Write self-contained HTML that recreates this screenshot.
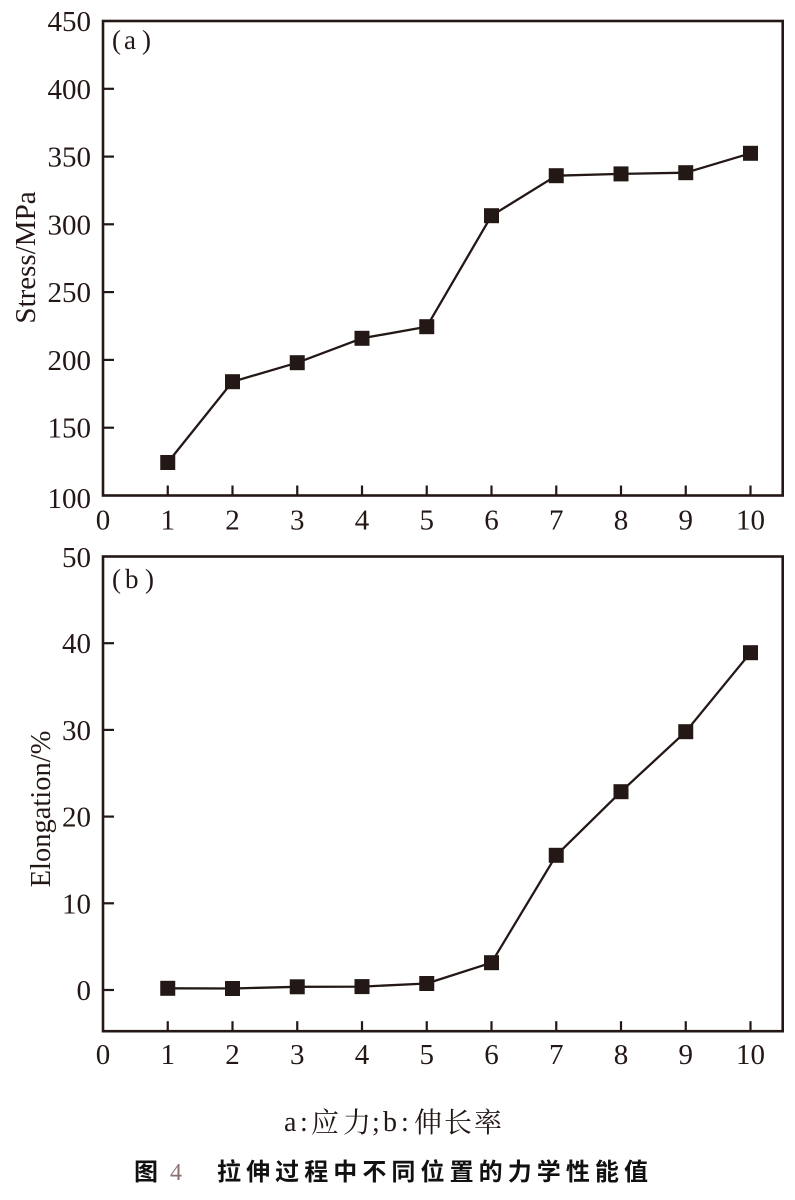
<!DOCTYPE html>
<html>
<head>
<meta charset="utf-8">
<style>
html,body{margin:0;padding:0;background:#fff;}
svg{display:block;}
.t{font-family:"Liberation Serif","Noto Serif CJK SC",serif;fill:#231815;}
</style>
</head>
<body>
<svg width="795" height="1200" viewBox="0 0 795 1200" xmlns="http://www.w3.org/2000/svg">
<rect width="795" height="1200" fill="#fff"/>

<!-- ===== Chart (a) ===== -->
<g stroke="#231815" fill="none">
  <rect x="103" y="21" width="679.7" height="474.5" stroke-width="2.6"/>
  <g stroke-width="2.2">
    <line x1="103" y1="427.7" x2="114" y2="427.7"/>
    <line x1="103" y1="359.9" x2="114" y2="359.9"/>
    <line x1="103" y1="292.1" x2="114" y2="292.1"/>
    <line x1="103" y1="224.3" x2="114" y2="224.3"/>
    <line x1="103" y1="156.6" x2="114" y2="156.6"/>
    <line x1="103" y1="88.8" x2="114" y2="88.8"/>
    <line x1="167.75" y1="495.5" x2="167.75" y2="485.5"/>
    <line x1="232.5" y1="495.5" x2="232.5" y2="485.5"/>
    <line x1="297.25" y1="495.5" x2="297.25" y2="485.5"/>
    <line x1="362" y1="495.5" x2="362" y2="485.5"/>
    <line x1="426.75" y1="495.5" x2="426.75" y2="485.5"/>
    <line x1="491.5" y1="495.5" x2="491.5" y2="485.5"/>
    <line x1="556.25" y1="495.5" x2="556.25" y2="485.5"/>
    <line x1="621" y1="495.5" x2="621" y2="485.5"/>
    <line x1="685.75" y1="495.5" x2="685.75" y2="485.5"/>
    <line x1="750.5" y1="495.5" x2="750.5" y2="485.5"/>
  </g>
  <polyline stroke-width="2.3" stroke-linejoin="round" points="167.75,462.5 232.5,381.7 297.25,362.7 362,338.3 426.75,326.7 491.5,215.7 556.25,175.7 621,173.9 685.75,172.7 750.5,153.3"/>
</g>
<g fill="#231815">
  <rect x="160.25" y="455" width="15" height="15"/>
  <rect x="225" y="374.2" width="15" height="15"/>
  <rect x="289.75" y="355.2" width="15" height="15"/>
  <rect x="354.5" y="330.8" width="15" height="15"/>
  <rect x="419.25" y="319.2" width="15" height="15"/>
  <rect x="484" y="208.2" width="15" height="15"/>
  <rect x="548.75" y="168.2" width="15" height="15"/>
  <rect x="613.5" y="166.4" width="15" height="15"/>
  <rect x="678.25" y="165.2" width="15" height="15"/>
  <rect x="743" y="145.8" width="15" height="15"/>
</g>
<g class="t" font-size="29" text-anchor="end">
  <text x="91" y="31">450</text>
  <text x="91" y="98.8">400</text>
  <text x="91" y="166.6">350</text>
  <text x="91" y="234.3">300</text>
  <text x="91" y="302.1">250</text>
  <text x="91" y="369.9">200</text>
  <text x="91" y="437.7">150</text>
  <text x="91" y="508">100</text>
</g>
<g class="t" font-size="29" text-anchor="middle">
  <text x="103" y="529.5">0</text>
  <text x="167.75" y="529.5">1</text>
  <text x="232.5" y="529.5">2</text>
  <text x="297.25" y="529.5">3</text>
  <text x="362" y="529.5">4</text>
  <text x="426.75" y="529.5">5</text>
  <text x="491.5" y="529.5">6</text>
  <text x="556.25" y="529.5">7</text>
  <text x="621" y="529.5">8</text>
  <text x="685.75" y="529.5">9</text>
  <text x="750.5" y="529.5">10</text>
</g>
<g class="t" font-size="27">
  <text x="112" y="49">(</text>
  <text x="124" y="49">a</text>
  <text x="142" y="49">)</text>
</g>
<text class="t" font-size="29" text-anchor="middle" transform="translate(35,257.5) rotate(-90)">Stress/MPa</text>

<!-- ===== Chart (b) ===== -->
<g stroke="#231815" fill="none">
  <rect x="103" y="556.5" width="679.7" height="474.7" stroke-width="2.6"/>
  <g stroke-width="2.2">
    <line x1="103" y1="990" x2="114" y2="990"/>
    <line x1="103" y1="903.3" x2="114" y2="903.3"/>
    <line x1="103" y1="816.6" x2="114" y2="816.6"/>
    <line x1="103" y1="729.9" x2="114" y2="729.9"/>
    <line x1="103" y1="643.2" x2="114" y2="643.2"/>
    <line x1="167.75" y1="1031.2" x2="167.75" y2="1021.2"/>
    <line x1="232.5" y1="1031.2" x2="232.5" y2="1021.2"/>
    <line x1="297.25" y1="1031.2" x2="297.25" y2="1021.2"/>
    <line x1="362" y1="1031.2" x2="362" y2="1021.2"/>
    <line x1="426.75" y1="1031.2" x2="426.75" y2="1021.2"/>
    <line x1="491.5" y1="1031.2" x2="491.5" y2="1021.2"/>
    <line x1="556.25" y1="1031.2" x2="556.25" y2="1021.2"/>
    <line x1="621" y1="1031.2" x2="621" y2="1021.2"/>
    <line x1="685.75" y1="1031.2" x2="685.75" y2="1021.2"/>
    <line x1="750.5" y1="1031.2" x2="750.5" y2="1021.2"/>
  </g>
  <polyline stroke-width="2.3" stroke-linejoin="round" points="167.75,988.3 232.5,988.5 297.25,986.8 362,986.6 426.75,983.5 491.5,962.7 556.25,855.3 621,791.7 685.75,731.7 750.5,652.7"/>
</g>
<g fill="#231815">
  <rect x="160.25" y="980.8" width="15" height="15"/>
  <rect x="225" y="981" width="15" height="15"/>
  <rect x="289.75" y="979.3" width="15" height="15"/>
  <rect x="354.5" y="979.1" width="15" height="15"/>
  <rect x="419.25" y="976" width="15" height="15"/>
  <rect x="484" y="955.2" width="15" height="15"/>
  <rect x="548.75" y="847.8" width="15" height="15"/>
  <rect x="613.5" y="784.2" width="15" height="15"/>
  <rect x="678.25" y="724.2" width="15" height="15"/>
  <rect x="743" y="645.2" width="15" height="15"/>
</g>
<g class="t" font-size="29" text-anchor="end">
  <text x="91" y="567">50</text>
  <text x="91" y="653.2">40</text>
  <text x="91" y="739.9">30</text>
  <text x="91" y="826.6">20</text>
  <text x="91" y="913.3">10</text>
  <text x="91" y="1000">0</text>
</g>
<g class="t" font-size="29" text-anchor="middle">
  <text x="103" y="1064">0</text>
  <text x="167.75" y="1064">1</text>
  <text x="232.5" y="1064">2</text>
  <text x="297.25" y="1064">3</text>
  <text x="362" y="1064">4</text>
  <text x="426.75" y="1064">5</text>
  <text x="491.5" y="1064">6</text>
  <text x="556.25" y="1064">7</text>
  <text x="621" y="1064">8</text>
  <text x="685.75" y="1064">9</text>
  <text x="750.5" y="1064">10</text>
</g>
<g class="t" font-size="27">
  <text x="112" y="588">(</text>
  <text x="125" y="588">b</text>
  <text x="145" y="588">)</text>
</g>
<text class="t" font-size="28.5" text-anchor="middle" transform="translate(50,809) rotate(-90)">Elongation/%</text>

<!-- ===== Captions ===== -->
<g font-family="'Liberation Serif','Noto Serif CJK SC',serif" fill="#231815" font-size="28">
  <text x="284" y="1131">a</text>
  <text x="300" y="1131">:</text>
  <text x="311" y="1132">应</text>
  <text x="343" y="1132">力</text>
  <text x="372" y="1131">;</text>
  <text x="383" y="1131">b</text>
  <text x="401" y="1131">:</text>
  <text x="414" y="1132">伸</text>
  <text x="444" y="1132">长</text>
  <text x="474" y="1132">率</text>
</g>
<text x="134" y="1180" font-family="'Noto Sans CJK SC',sans-serif" font-weight="bold" font-size="24" fill="#111">图</text>
<text x="170" y="1180" font-family="'Liberation Serif',serif" font-size="24" fill="#8a7070">4</text>
<text x="217" y="1180" font-family="'Noto Sans CJK SC',sans-serif" font-weight="bold" font-size="24" textLength="431" lengthAdjust="spacing" fill="#111">拉伸过程中不同位置的力学性能值</text>
</svg>
</body>
</html>
